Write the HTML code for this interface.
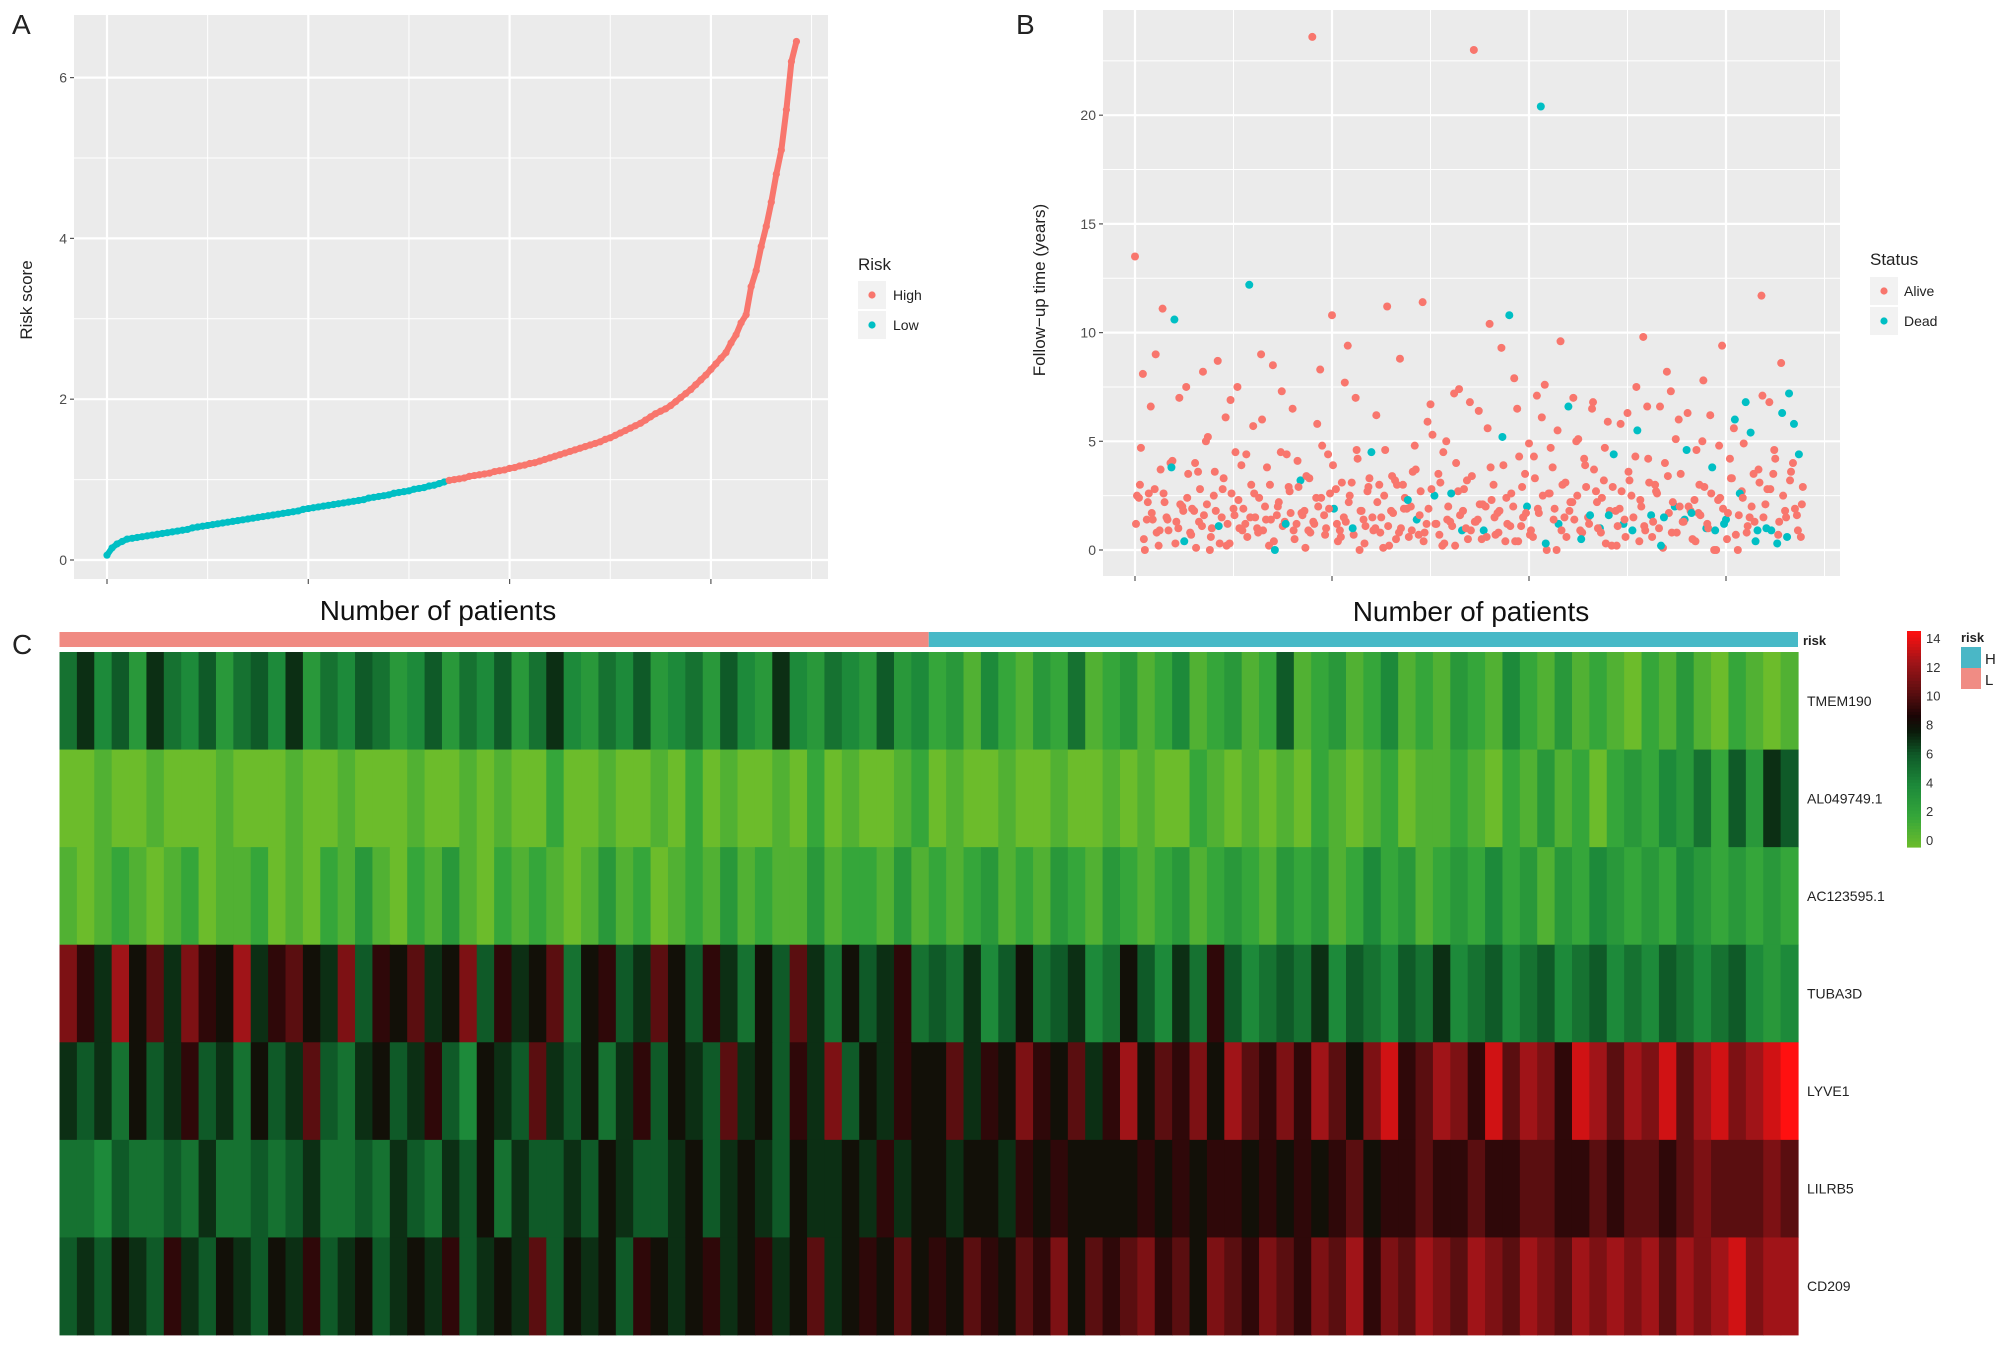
<!DOCTYPE html>
<html><head><meta charset="utf-8">
<style>
html,body{margin:0;padding:0;background:#fff;}
svg{display:block;font-family:"Liberation Sans",Arial,sans-serif;}
</style></head>
<body>
<svg id="fig" width="2008" height="1348" viewBox="0 0 2008 1348" xmlns="http://www.w3.org/2000/svg">
<rect x="0" y="0" width="2008" height="1348" fill="#fff"/>
<text x="12" y="34" font-size="28" fill="#222">A</text>
<text x="1016" y="34" font-size="28" fill="#222">B</text>
<text x="12" y="654" font-size="28" fill="#222">C</text>
<g id="pa"></g>
<g id="pb"></g>
<g id="pc"></g>
</svg>
<script>
// ---------- Panel A data ----------
const riskStep = 5;
const riskScores = [0.06,0.15,0.2,0.23,0.26,0.27,0.28,0.29,0.3,0.31,0.32,0.33,0.34,0.35,0.36,0.37,0.38,0.4,0.41,0.42,
0.43,0.44,0.45,0.46,0.47,0.48,0.49,0.5,0.51,0.52,0.53,0.54,0.55,0.56,0.57,0.58,0.59,0.6,0.61,0.63,
0.64,0.65,0.66,0.67,0.68,0.69,0.7,0.71,0.72,0.73,0.74,0.75,0.77,0.78,0.79,0.8,0.81,0.83,0.84,0.85,
0.86,0.88,0.89,0.9,0.92,0.93,0.95,0.97,0.99,1.0,1.01,1.02,1.04,1.05,1.06,1.07,1.08,1.1,1.11,1.12,
1.14,1.15,1.17,1.18,1.2,1.21,1.23,1.25,1.27,1.29,1.31,1.33,1.35,1.37,1.39,1.41,1.43,1.45,1.47,1.5,
1.52,1.55,1.58,1.61,1.64,1.67,1.7,1.74,1.78,1.82,1.85,1.88,1.92,1.97,2.02,2.07,2.12,2.18,2.24,2.3,
2.37,2.44,2.51,2.58,2.7,2.8,2.95,3.05,3.4,3.6,3.9,4.15,4.45,4.8,5.1,5.6,6.2,6.45];
const riskCutoff = 340;
const riskYTicks = [0,2,4,6];
const riskXTicks = [0,200,400,600];

// ---------- Panel B data ----------
const survStep = 4;
const timesA = [13.5,2.4,8.1,1.4,6.6,2.8,0.2,11.1,1.5,4.0,
10.6,1.0,2.0,7.5,0.8,1.8,3.6,1.1,5.0,0.0,
2.5,8.7,1.5,6.1,0.3,1.9,7.5,3.9,1.2,12.2,
5.7,1.0,9.0,2.0,0.2,8.5,1.6,4.5,1.3,2.9,
6.5,1.2,3.2,1.8,0.9,23.6,2.4,8.3,1.6,4.4,
10.8,2.8,0.9,1.5,9.4,3.1,7.0,0.0,1.4,2.7,
4.5,1.0,3.0,0.1,11.2,1.8,3.2,0.8,3.0,1.9,
2.0,4.8,0.7,11.4,1.2,6.7,2.5,3.5,0.2,5.0,
1.3,7.2,2.7,0.9,1.0,6.8,23.0,1.4,0.5,2.0,
10.4,3.0,1.7,9.3,0.4,10.8,2.0,6.5,1.1,3.5,
4.9,0.6,7.1,20.4,7.6,2.6,3.8,0.0,9.6,1.5,
6.6,2.2,5.0,0.9,4.2,1.5,6.5,2.7,1.0,3.2,
5.9,0.2,1.8,1.9,1.2,6.3,2.5,4.3,0.4,9.8,
6.6,1.6,3.0,1.0,0.1,8.2,7.3,2.0,6.0,1.3,
4.6,1.8,2.3,1.7,5.0,1.0,6.2,0.0,2.3,9.4,
1.4,4.2,5.6,0.0,2.7,6.8,1.5,3.5,0.9,11.7,
2.1,6.8,3.5,0.3,8.6,1.8,7.2,4.0,1.6,0.6];
const deadA = [10,29,42,60,76,83,95,103,110,118,124,131,137,140,145,150,155,158,163,166];
const timesB = [2.5,4.7,0.0,2.6,1.4,0.8,3.7,2.2,0.9,4.1,
1.3,2.1,0.4,3.5,1.9,0.1,2.8,1.6,5.2,1.0,
1.8,0.3,3.3,1.2,2.6,4.5,1.0,1.9,0.6,3.0,
1.5,2.4,0.9,3.8,1.4,0.0,2.2,1.1,4.4,1.7,
0.5,2.9,1.6,3.4,0.8,1.2,2.0,4.8,1.0,2.6,
1.9,0.4,3.1,1.3,2.5,0.7,4.2,1.8,1.1,3.3,
0.9,2.2,1.5,4.6,0.2,1.7,3.0,1.0,2.4,0.6,
3.6,1.4,2.7,0.8,1.9,5.3,1.2,3.1,0.3,2.0,
1.1,4.0,1.6,2.8,0.5,3.4,1.3,2.1,0.9,5.6,
2.3,0.7,1.8,3.9,1.2,2.6,0.4,4.3,1.5,2.0,
0.9,3.3,1.7,2.5,0.0,4.7,1.9,1.2,3.0,0.6,
2.2,1.4,5.1,0.8,2.9,1.6,3.7,1.0,2.4,0.3,
1.8,4.4,1.1,2.7,0.6,3.2,1.5,5.5,2.0,0.9,
3.1,1.3,2.6,0.2,4.0,1.7,2.2,0.8,3.5,1.4,
2.0,0.5,4.6,1.6,2.9,1.0,3.8,0.0,2.4,1.2,
1.7,3.3,0.7,2.6,4.9,1.1,2.0,0.4,3.1,1.5,
2.8,0.9,4.2,1.3,2.5,0.6,3.6,1.9,4.4,2.9];
const deadB = [12,35,50,71,88,99,107,115,121,127,133,139,146,149,153,157,161,165,168];
const timesC = [1.2,3.0,0.5,2.2,1.7,9.0,0.9,2.6,1.4,3.8,
0.3,7.0,1.8,2.4,0.7,4.0,1.3,8.2,2.1,0.6,
3.6,1.1,2.8,0.2,6.9,1.6,2.3,0.9,4.4,1.5,
2.6,0.8,6.0,1.4,3.0,0.4,2.0,7.3,1.2,2.7,
0.9,4.1,1.7,0.1,3.3,1.3,5.8,2.4,0.7,1.9,
3.9,1.2,0.6,7.7,2.2,1.0,4.6,1.8,0.3,2.9,
1.5,6.2,0.8,2.5,1.1,3.4,0.5,8.8,1.9,2.3,
0.9,3.7,1.6,0.4,5.9,2.8,1.2,0.7,4.5,1.4,
2.6,0.2,7.4,1.8,3.2,0.9,1.3,6.4,2.1,0.6,
3.8,1.5,0.8,5.2,2.4,1.1,7.9,0.4,2.9,1.7,
0.7,4.3,1.9,6.1,0.3,2.6,1.4,5.5,0.9,3.1,
1.8,7.0,2.5,0.5,3.9,1.2,6.8,2.2,0.8,4.7,
1.6,2.9,0.2,5.8,1.4,3.6,0.9,7.5,2.3,1.1,
4.2,0.6,2.7,6.6,1.5,3.4,0.8,5.1,2.0,1.3,
6.3,1.7,0.4,3.0,7.8,1.2,2.6,0.9,4.8,1.9,
0.5,3.3,6.0,1.6,2.4,0.8,5.4,1.3,3.7,7.1,
1.0,2.8,4.6,0.7,6.3,1.5,3.2,5.8,0.9,2.1];
const deadC = [9,21,38,55,69,80,93,104,113,120,126,134,141,147,152,156,160,164,167];
const survYTicks = [0,5,10,15,20];
const survXTicks = [0,200,400,600];

// ---------- Panel C data ----------
const genes = ["TMEM190","AL049749.1","AC123595.1","TUBA3D","LYVE1","LILRB5","CD209"];
const exprTMEM190 = [5,7,4,6,3,7,5,4,6,3,5,6,4,7,3,5,4,6,5,3,4,6,3,5,4,6,3,5,7,4,3,5,4,6,3,4,5,3,6,4,3,7,4,3,5,4,3,6,3,4,
2,3,1,4,2,1,3,2,5,1,2,3,1,2,4,1,2,3,1,2,6,1,2,3,1,2,4,1,2,1,3,2,1,4,2,1,3,1,2,1,0,2,1,3,1,0,2,1,0,1];
const exprAL049749 = [0,0,1,0,0,1,0,0,0,1,0,0,0,1,0,0,1,0,0,0,1,0,0,1,0,1,0,0,2,0,0,1,0,0,1,0,2,0,1,0,0,1,0,2,0,1,0,0,1,2,
0,1,0,0,1,0,0,1,0,0,1,0,1,0,0,2,1,0,1,0,1,0,2,1,0,1,2,0,1,1,2,1,0,2,1,3,1,2,0,2,3,2,4,3,5,2,6,3,7,6];
const exprAC123595 = [1,0,1,2,1,0,1,2,0,1,1,2,0,1,0,2,1,3,1,0,2,1,3,1,0,2,1,2,1,0,1,3,1,2,0,1,2,1,3,1,2,1,1,3,1,2,2,1,3,1,
2,1,2,3,1,2,1,3,2,1,3,2,1,2,3,1,2,3,2,1,3,2,3,1,2,4,2,3,1,2,3,2,4,2,3,1,3,2,4,3,2,3,2,4,3,2,3,2,3,2];
const exprTUBA3D = [11,9,7,12,8,10,7,11,9,8,12,7,9,10,8,7,11,6,9,8,10,7,8,11,6,9,7,8,10,5,8,9,6,7,10,8,6,9,7,5,8,6,10,7,5,8,6,7,9,5,
6,5,7,4,6,8,5,6,7,4,5,8,6,4,7,5,9,6,4,5,6,5,7,4,6,5,4,6,5,7,4,5,6,4,5,6,4,5,6,4,5,4,6,5,4,5,6,4,3,4];
const exprLYVE1 = [7,6,7,5,8,6,7,9,6,7,5,8,6,7,10,6,5,7,8,6,7,9,6,4,8,7,6,10,7,6,8,5,7,9,6,8,7,6,10,7,8,6,9,7,11,6,8,7,9,8,
8,10,7,9,8,11,9,8,10,7,9,12,8,10,9,11,8,12,10,9,11,9,12,10,8,11,13,9,10,12,11,9,13,10,12,11,9,13,12,10,12,11,13,10,12,13,11,12,13,14];
const exprLILRB5 = [5,5,4,6,5,5,6,5,7,5,5,6,5,6,7,5,5,6,5,7,6,5,7,6,8,5,7,6,6,7,6,8,7,6,6,7,8,6,7,8,7,6,8,7,7,8,7,9,7,8,
8,7,8,8,7,9,8,9,8,8,8,8,9,8,9,8,9,9,8,9,8,9,8,9,10,8,9,9,10,9,9,10,9,9,10,10,9,9,10,9,10,10,9,10,11,10,10,10,11,10];
const exprCD209 = [6,7,6,8,7,6,9,7,6,8,7,6,8,7,9,6,7,8,6,7,8,7,9,6,7,8,7,10,6,8,7,8,6,9,8,7,8,9,7,8,9,7,8,10,7,8,9,8,10,8,
9,8,10,9,8,10,9,11,8,10,9,10,11,9,10,8,11,10,9,11,10,9,11,10,12,9,11,10,12,11,10,12,11,10,12,11,10,12,11,12,11,12,10,12,11,12,13,11,12,12];
const lowFraction = 0.5;
const colorTicks = [0,2,4,6,8,10,12,14];

const NS = "http://www.w3.org/2000/svg";
function mk(parent, tag, attrs, txt){const e=document.createElementNS(NS,tag);for(const k in attrs)e.setAttribute(k,attrs[k]);if(txt!==undefined)e.textContent=txt;parent.appendChild(e);return e;}
const RED="#f8766d", TEAL="#00bfc4";

// ---------- Panel A ----------
(function(){
  const g=document.getElementById('pa');
  const L=74,R=828,T=15,B=579;
  const x=v=>107+v*1.0065, y=v=>560-v*80.4;
  const bg=mk(g,'rect',{x:L,y:T,width:R-L,height:B-T,fill:'#ebebeb'});
  
  [1,3,5].forEach(v=>mk(g,'line',{x1:L,x2:R,y1:y(v),y2:y(v),stroke:'#fff','stroke-width':1}));
  [100,300,500,700].forEach(v=>mk(g,'line',{x1:x(v),x2:x(v),y1:T,y2:B,stroke:'#fff','stroke-width':1}));
  riskYTicks.forEach(v=>{
    mk(g,'line',{x1:L,x2:R,y1:y(v),y2:y(v),stroke:'#fff','stroke-width':2.2});
    mk(g,'line',{x1:L-4,x2:L,y1:y(v),y2:y(v),stroke:'#555','stroke-width':1.2});
    const t=mk(g,'text',{x:L-7,y:y(v)+5,'font-size':14,fill:'#4d4d4d','text-anchor':'end'},String(v));
    
  });
  riskXTicks.forEach(v=>{
    mk(g,'line',{x1:x(v),x2:x(v),y1:T,y2:B,stroke:'#fff','stroke-width':2.2});
    mk(g,'line',{x1:x(v),x2:x(v),y1:B,y2:B+5,stroke:'#555','stroke-width':1.2});
  });
  const pts=mk(g,'g',{});
  
  for(let i=1;i<riskScores.length;i++){
    const p0=(i-1)*riskStep,p1=i*riskStep;
    mk(pts,'line',{x1:x(p0),y1:y(riskScores[i-1]),x2:x(p1),y2:y(riskScores[i]),stroke:p1<riskCutoff?TEAL:RED,'stroke-width':6,'stroke-linecap':'round'});
  }
  riskScores.forEach((v,i)=>{
    const p=i*riskStep;
    const c=mk(pts,'circle',{cx:x(p),cy:y(v),r:3.6,fill:p<riskCutoff?TEAL:RED});
    
  });
  const yt=mk(g,'text',{x:0,y:0,'font-size':17,fill:'#222',transform:'translate(32,300) rotate(-90)','text-anchor':'middle'},'Risk score');
  
  const xt=mk(g,'text',{x:438,y:620,'font-size':28,fill:'#111','text-anchor':'middle'},'Number of patients');
  
  const lt=mk(g,'text',{x:858,y:270,'font-size':17,fill:'#222'},'Risk');
  
  [['High',RED,295],['Low',TEAL,325]].forEach(([n,c,cy])=>{
    const e=mk(g,'g',{});
    
    mk(e,'rect',{x:858,y:cy-14,width:28,height:28,fill:'#f2f2f2'});
    mk(e,'circle',{cx:872,cy:cy,r:3.6,fill:c});
    mk(e,'text',{x:893,y:cy+5,'font-size':14,fill:'#222'},n);
  });
})();

// ---------- Panel B ----------
(function(){
  const g=document.getElementById('pb');
  const L=1103,R=1840,T=10,B=576;
  const x=v=>1135+v*0.985, y=v=>550-v*21.74;
  const bg=mk(g,'rect',{x:L,y:T,width:R-L,height:B-T,fill:'#ebebeb'});
  
  [2.5,7.5,12.5,17.5,22.5].forEach(v=>mk(g,'line',{x1:L,x2:R,y1:y(v),y2:y(v),stroke:'#fff','stroke-width':1}));
  [100,300,500,700].forEach(v=>mk(g,'line',{x1:x(v),x2:x(v),y1:T,y2:B,stroke:'#fff','stroke-width':1}));
  survYTicks.forEach(v=>{
    mk(g,'line',{x1:L,x2:R,y1:y(v),y2:y(v),stroke:'#fff','stroke-width':2.2});
    mk(g,'line',{x1:L-4,x2:L,y1:y(v),y2:y(v),stroke:'#555','stroke-width':1.2});
    const t=mk(g,'text',{x:L-7,y:y(v)+5,'font-size':14,fill:'#4d4d4d','text-anchor':'end'},String(v));
    
  });
  survXTicks.forEach(v=>{
    mk(g,'line',{x1:x(v),x2:x(v),y1:T,y2:B,stroke:'#fff','stroke-width':2.2});
    mk(g,'line',{x1:x(v),x2:x(v),y1:B,y2:B+5,stroke:'#555','stroke-width':1.2});
  });
  const pts=mk(g,'g',{});
  
  function draw(arr,dead,off){
    arr.forEach((v,i)=>{
      const c=mk(pts,'circle',{cx:x(i*survStep+off),cy:y(v),r:4,fill:dead.includes(i)?TEAL:RED});
      
    });
  }
  draw(timesA,deadA,0);draw(timesB,deadB,2);draw(timesC,deadC,1);
  const yt=mk(g,'text',{x:0,y:0,'font-size':17,fill:'#222',transform:'translate(1045,290) rotate(-90)','text-anchor':'middle'},'Follow\u2212up time (years)');
  
  const xt=mk(g,'text',{x:1471,y:621,'font-size':28,fill:'#111','text-anchor':'middle'},'Number of patients');
  
  const lt=mk(g,'text',{x:1870,y:265,'font-size':17,fill:'#222'},'Status');
  
  [['Alive',RED,291],['Dead',TEAL,321]].forEach(([n,c,cy])=>{
    const e=mk(g,'g',{});
    
    mk(e,'rect',{x:1870,y:cy-14,width:28,height:28,fill:'#f2f2f2'});
    mk(e,'circle',{cx:1884,cy:cy,r:3.6,fill:c});
    mk(e,'text',{x:1904,y:cy+5,'font-size':14,fill:'#222'},n);
  });
})();

// ---------- Panel C ----------
(function(){
  const g=document.getElementById('pc');
  const L=59.5,R=1798,T=652,B=1335;
  const rows=[exprTMEM190,exprAL049749,exprAC123595,exprTUBA3D,exprLYVE1,exprLILRB5,exprCD209];
  const stops=[[0,[108,188,43]],[2,[53,166,58]],[4,[29,138,58]],[6,[15,90,40]],[7.5,[10,26,10]],[8.5,[26,5,5]],[10,[90,14,16]],[12,[160,20,24]],[14,[255,16,16]]];
  function col(v){
    if(v<=stops[0][0])return 'rgb('+stops[0][1]+')';
    for(let i=1;i<stops.length;i++){if(v<=stops[i][0]){const a=stops[i-1],b=stops[i],t=(v-a[0])/(b[0]-a[0]);return 'rgb('+a[1].map((c,k)=>Math.round(c+(b[1][k]-c)*t)).join(',')+')';}}
    return 'rgb('+stops[stops.length-1][1]+')';
  }
  const rh=(B-T)/rows.length;
  const split=L+(R-L)*lowFraction;
  const rl=mk(g,'rect',{x:L,y:632,width:split-L,height:15,fill:'#f08a82'});
  
  const rhB=mk(g,'rect',{x:split,y:632,width:R-split,height:15,fill:'#47b9c7'});
  
  mk(g,'text',{x:R+5,y:645,'font-size':13,'font-weight':'bold',fill:'#222'},'risk');
  rows.forEach((arr,r)=>{
    const rg=mk(g,'g',{});
    
    const cw=(R-L)/arr.length;
    arr.forEach((v,c)=>{
      const cell=mk(rg,'rect',{x:L+c*cw,y:T+r*rh,width:cw+0.6,height:rh+0.4,fill:col(v)});
      
    });
    const lab=mk(g,'text',{x:R+9,y:T+r*rh+rh/2+5,'font-size':14,fill:'#222'},genes[r]);
    
  });
  const cb=mk(g,'g',{});
  
  const cbT=631,cbB=847,n=70;
  for(let i=0;i<n;i++){const v=14*(i+0.5)/n;mk(cb,'rect',{x:1907,y:cbB-(i+1)*(cbB-cbT)/n,width:14,height:(cbB-cbT)/n+0.6,fill:col(v)});}
  colorTicks.forEach(v=>{
    const t=mk(g,'text',{x:1926,y:cbB-v*(cbB-cbT-14)/14-2,'font-size':13,fill:'#333'},String(v));
    
  });
  mk(g,'text',{x:1961,y:642,'font-size':13,'font-weight':'bold',fill:'#222'},'risk');
  [['H','#4ab7c6',647],['L','#f08c84',668]].forEach(([n2,c,yy])=>{
    const e=mk(g,'g',{});
    
    mk(e,'rect',{x:1961,y:yy,width:20,height:21,fill:c});
    mk(e,'text',{x:1985,y:yy+17,'font-size':15,fill:'#222'},n2);
  });
})();
</script>
</body></html>
